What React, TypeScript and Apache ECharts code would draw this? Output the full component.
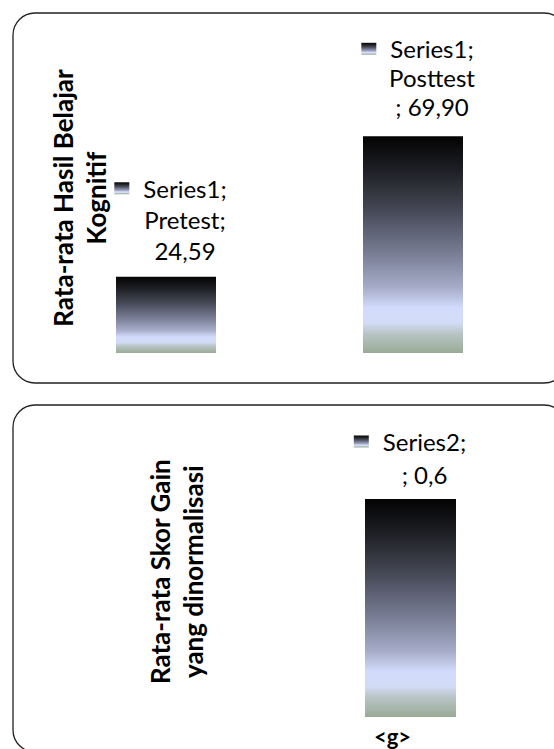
import React, { useEffect, useRef } from "react";
import * as echarts from "echarts";

// ---- data ----
const series1Name = "Series1";
const categories1 = ["Pretest", "Posttest"];
const values1 = [24.59, 69.9];
const decimals1 = 2;
const yTitle1 = "Rata-rata Hasil Belajar\nKognitif";

const series2Name = "Series2";
const categories2 = ["<g>"];
const values2 = [0.6];
const decimals2 = 1;
const yTitle2 = "Rata-rata Skor Gain\nyang dinormalisasi";

const fmt = (v: number, d: number) => v.toFixed(d).replace(".", ",");

const barGradient = () =>
  new echarts.graphic.LinearGradient(0, 0, 0, 1, [
    { offset: 0, color: "#030303" },
    { offset: 0.15, color: "#1d1e23" },
    { offset: 0.35, color: "#474a58" },
    { offset: 0.55, color: "#7b8098" },
    { offset: 0.7, color: "#a7adc9" },
    { offset: 0.79, color: "#d2dbfb" },
    { offset: 0.86, color: "#d3dcf6" },
    { offset: 0.91, color: "#b8c4c6" },
    { offset: 1, color: "#99ab95" },
  ]);

const FONT = "Lato";

const richStyles = (lh: number) => ({
  k: { width: 15, height: 12, backgroundColor: barGradient() },
  gap: { width: 14 },
  pad: { width: 29 },
  t: { fontFamily: FONT, fontSize: 24, lineHeight: lh, color: "#000" },
});

const makeLabel = (lines: string[]) =>
  `{k|}{gap|}{t|${lines[0]}}{pad|}` +
  lines
    .slice(1)
    .map((l) => `\n{t|${l}}`)
    .join("");

const titleStyle = {
  fontFamily: FONT,
  fontWeight: "bold",
  fontSize: 26,
  lineHeight: 33,
  color: "#000",
};

export default function App() {
  const ref = useRef<HTMLDivElement>(null);
  useEffect(() => {
    if (!ref.current) return;
    const chart = echarts.init(ref.current, undefined, { renderer: "svg" });

    const labels1 = [
      [`${series1Name};`, `${categories1[0]};`, fmt(values1[0], decimals1)],
      [`${series1Name};`, `${categories1[1]}`, `; ${fmt(values1[1], decimals1)}`],
    ];
    const labels2 = [[`${series2Name};`, `; ${fmt(values2[0], decimals2)}`]];
    const lineHeights1 = [31, 29];
    const distances1 = [11, 15];

    const hiddenAxisParts = {
      axisLine: { show: false },
      axisTick: { show: false },
      splitLine: { show: false },
    };

    chart.setOption({
      animation: false,
      backgroundColor: "#ffffff",
      graphic: [
        {
          type: "rect",
          shape: { x: 13, y: 13, width: 553, height: 370, r: 22 },
          style: { fill: "none", stroke: "#222", lineWidth: 1.3 },
          z: 0,
        },
        {
          type: "rect",
          shape: { x: 13, y: 405, width: 553, height: 347, r: 22 },
          style: { fill: "none", stroke: "#222", lineWidth: 1.3 },
          z: 0,
        },
      ],
      grid: [
        { left: 42.5, width: 494, top: 43, height: 310 },
        { left: 285, width: 251, top: 426.33, height: 290.67 },
      ],
      xAxis: [
        {
          type: "category",
          gridIndex: 0,
          data: categories1,
          ...hiddenAxisParts,
          axisLabel: { show: false },
        },
        {
          type: "category",
          gridIndex: 1,
          data: categories2,
          ...hiddenAxisParts,
          axisLabel: {
            fontFamily: FONT,
            fontWeight: "bold",
            fontSize: 22,
            lineHeight: 22,
            color: "#000",
            margin: 8,
            padding: [0, 36, 0, 0],
          },
        },
      ],
      yAxis: [
        {
          type: "value",
          gridIndex: 0,
          min: 0,
          max: 100,
          ...hiddenAxisParts,
          axisLabel: { show: false },
          name: yTitle1,
          nameLocation: "middle",
          nameGap: -70,
          nameTextStyle: titleStyle,
        },
        {
          type: "value",
          gridIndex: 1,
          min: 0,
          max: 0.8,
          ...hiddenAxisParts,
          axisLabel: { show: false },
          name: yTitle2,
          nameLocation: "middle",
          nameGap: 76,
          nameTextStyle: titleStyle,
        },
      ],
      series: [
        {
          name: series1Name,
          type: "bar",
          xAxisIndex: 0,
          yAxisIndex: 0,
          barWidth: 100,
          data: values1.map((v, i) => ({
            value: v,
            label: {
              show: true,
              position: "top",
              distance: distances1[i],
              offset: [19, 0],
              align: "center",
              formatter: makeLabel(labels1[i]),
              rich: richStyles(lineHeights1[i]),
            },
          })),
          itemStyle: { color: barGradient() },
        },
        {
          name: series2Name,
          type: "bar",
          xAxisIndex: 1,
          yAxisIndex: 1,
          barWidth: 91,
          data: values2.map((v, i) => ({
            value: v,
            label: {
              show: true,
              position: "top",
              distance: 8,
              offset: [14, 0],
              align: "center",
              formatter: makeLabel(labels2[i]),
              rich: richStyles(33),
            },
          })),
          itemStyle: { color: barGradient() },
        },
      ],
    });
    return () => chart.dispose();
  }, []);

  return (
    <div
      ref={ref}
      style={{ position: "absolute", left: 0, top: 0, width: 554, height: 749 }}
    />
  );
}
